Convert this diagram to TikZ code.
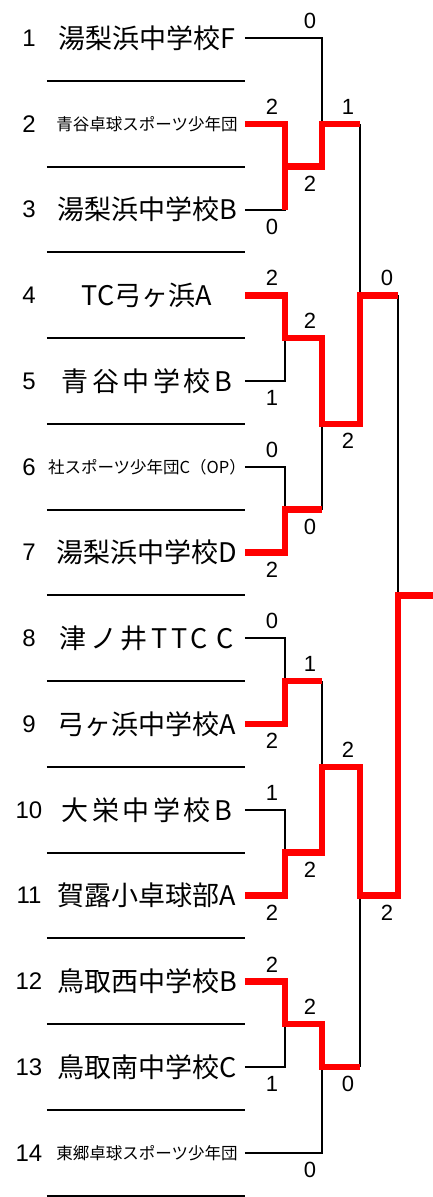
\documentclass[tikz,border=0pt]{standalone}
\usepackage{fontspec}
\setmainfont{Liberation Sans}
\newfontfamily\jpfont{Noto Sans CJK JP}
\newfontfamily\jpwide{Noto Sans CJK JP}[LetterSpace=13]
\usepackage{tikz}

\begin{document}
\begin{tikzpicture}[x=1pt, y=-42.88pt,
		lose/.style={line width=2pt, black},
		win/.style={line width=6.5pt, red},
		sep/.style={line width=2pt, black},
		rownum/.style={font=\fontsize{24}{24}\selectfont},
		score/.style={font=\fontsize{22}{22}\selectfont},
		hi/.style={yshift=17pt},
		lo/.style={yshift=-17pt},
		big/.style={font=\jpfont\fontsize{27}{27}\selectfont},
		wide/.style={font=\jpwide\fontsize{27}{27}\selectfont},
		small/.style={font=\jpfont\fontsize{16.5}{16.5}\selectfont}]
				\useasboundingbox (0,-0.886) rectangle (433,27.03);
				
				% Separator lines
				\foreach \r in {1,3,...,27} {
					\draw[sep] (47,\r) -- (245,\r);
				}
				
				% Entries
				\foreach \i/\name/\sz in {1/湯梨浜中学校F/big, 2/青谷卓球スポーツ少年団/small, 3/湯梨浜中学校B/big,
					4/TC弓ヶ浜A/big, 5/青谷中学校B/wide, 6/社スポーツ少年団C（OP）/small, 7/湯梨浜中学校D/big,
					8/津ノ井TTC C/wide, 9/弓ヶ浜中学校A/big, 10/大栄中学校B/wide, 11/賀露小卓球部A/big,
					12/鳥取西中学校B/big, 13/鳥取南中学校C/big, 14/東郷卓球スポーツ少年団/small} {
					\node[rownum] (num\i) at (29,2*\i-2) {\i};
					\node[\sz] (team\i) at (147,2*\i-2) {\name};
					\coordinate (t\i) at (245,2*\i-2);
				}
				
				% Match points
				\coordinate (j1) at (285,3);
				\coordinate (j2) at (322,2);
				\coordinate (j3) at (285,7);
				\coordinate (j4) at (285,11);
				\coordinate (j5) at (322,9);
				\coordinate (j6) at (360,6);
				\coordinate (j7) at (285,15);
				\coordinate (j8) at (285,19);
				\coordinate (j9) at (322,17);
				\coordinate (j10) at (285,23);
				\coordinate (j11) at (322,24);
				\coordinate (j12) at (360,20);
				\coordinate (jf) at (398,13);
				\coordinate (champ) at (433,13);
				
				% Lost lines
				\draw[lose] (t1) -| (j2);
				\draw[lose] (t3) -| (j1);
				\draw[lose] (t5) -| (j3);
				\draw[lose] (t6) -| (j4);
				\draw[lose] (t8) -| (j7);
				\draw[lose] (t10) -| (j8);
				\draw[lose] (t13) -| (j10);
				\draw[lose] (t14) -| (j11);
				\draw[lose] (j2 -| j6) -- (j6);
				\draw[lose] (j4 -| j5) -- (j5);
				\draw[lose] (j7 -| j9) -- (j9);
				\draw[lose] (j11 -| j12) -- (j12);
				\draw[lose] (j6 -| jf) -- (jf);
				
				% Winning lines
				\draw[win] (t2) -| (j1 |- t3);
				\draw[win] (j1) -| (j2) -- (j2 -| j6);
				\draw[win] (t4) -| (j3) -| (j5) -| (j6) -- (j6 -| jf);
				\draw[win] (t7) -| (j4) -- (j4 -| j5);
				\draw[win] (t9) -| (j7) -- (j7 -| j9);
				\draw[win] (t11) -| (j8) -| (j9) -| (j12) -| (jf) -- (champ);
				\draw[win] (t12) -| (j10) -| (j11) -- (j11 -| j12);
				
				% Scores
				\foreach \x/\r/\p/\s in {310/0/hi/0, 272/2/hi/2, 272/4/lo/0, 310/3/lo/2, 348/2/hi/1,
					272/6/hi/2, 310/7/hi/2, 272/8/lo/1, 387/6/hi/0, 348/9/lo/2, 272/10/hi/0,
					272/12/lo/2, 310/11/lo/0, 272/14/hi/0, 310/15/hi/1, 272/16/lo/2, 348/17/hi/2,
					272/18/hi/1, 310/19/lo/2, 272/20/lo/2, 387/20/lo/2, 272/22/hi/2, 310/23/hi/2,
					272/24/lo/1, 348/24/lo/0, 310/26/lo/0} {
					\node[score, \p] (s\x-\r) at (\x,\r) {\s};
				}
			\end{tikzpicture}
\end{document}
